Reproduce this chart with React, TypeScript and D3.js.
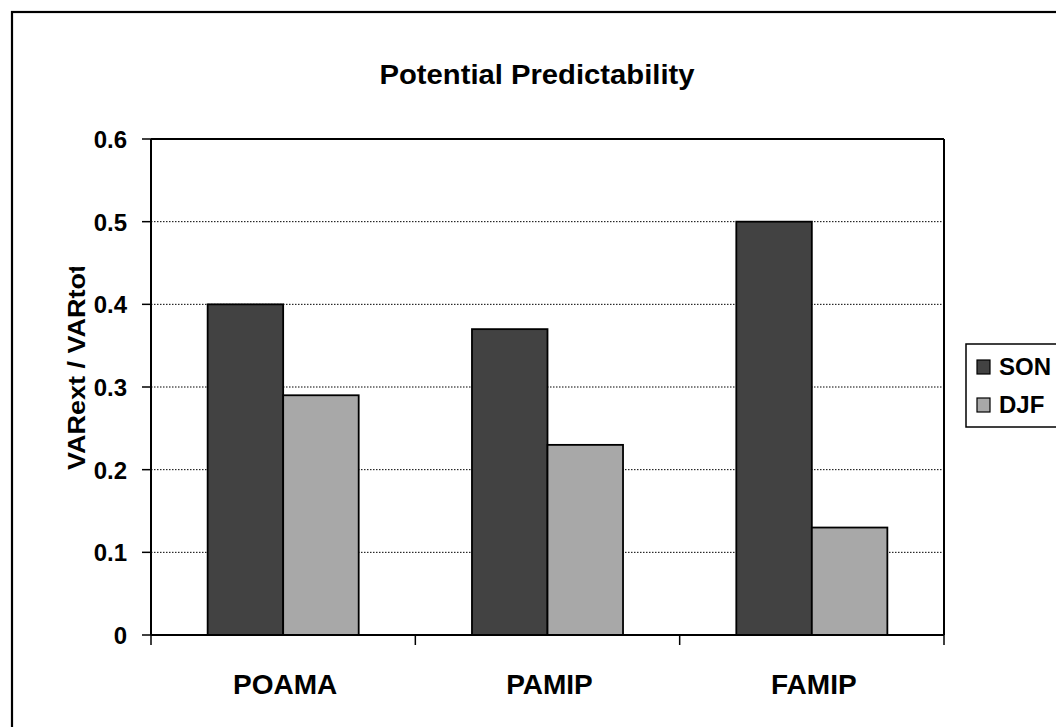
import React from "react";
import * as d3 from "d3";

const categories = ["POAMA", "PAMIP", "FAMIP"];
const seriesNames = ["SON", "DJF"];
const sonValues = [0.4, 0.37, 0.5];
const djfValues = [0.29, 0.23, 0.13];
const yTicks = [0, 0.1, 0.2, 0.3, 0.4, 0.5, 0.6];
const colors = ["#424242", "#a8a8a8"];

const FONT = "'Liberation Sans', Arial, sans-serif";

export default function App() {
  const left = 151, right = 944, top = 139, bottom = 635;
  const y = d3.scaleLinear().domain([0, 0.6]).range([bottom, top]);
  const x0 = d3.scaleBand().domain(categories).range([left, right]).paddingInner(0).paddingOuter(0);
  const groupW = x0.bandwidth() * (2 / 3.5);
  const x1 = d3.scaleBand().domain(seriesNames).range([0, groupW]).padding(0);
  const series = [sonValues, djfValues];
  const catEdges = d3.range(categories.length + 1).map((i) => left + i * x0.bandwidth());

  return (
    <svg width={1056} height={727} style={{ position: "absolute", left: 0, top: 0, background: "#fff" }}>
      <defs>
        <clipPath id="ylab">
          <rect x={0} y={267} width={140} height={400} />
        </clipPath>
      </defs>
      <rect x={0} y={0} width={1056} height={727} fill="#fff" />
      {/* outer chart border */}
      <rect x={12} y={12} width={1100} height={800} fill="none" stroke="#000" strokeWidth={2.2} />
      {/* title */}
      <text x={537} y={84} textAnchor="middle" fontFamily={FONT} fontWeight="bold" fontSize={27}
        textLength={315} lengthAdjust="spacingAndGlyphs">Potential Predictability</text>
      {/* gridlines */}
      {yTicks.filter((t) => t > 0 && t < 0.6).map((t) => (
        <line key={"g" + t} x1={left} x2={right} y1={y(t)} y2={y(t)} stroke="#000" strokeWidth={1} strokeDasharray="1.5,1.5" />
      ))}
      {/* bars */}
      {categories.map((c, ci) => (
        <g key={c} transform={`translate(${x0(c)! + (x0.bandwidth() - groupW) / 2},0)`}>
          {series.map((vals, si) => (
            <rect key={si} x={x1(seriesNames[si])} y={y(vals[ci])} width={x1.bandwidth()}
              height={y(0) - y(vals[ci])} fill={colors[si]} stroke="#000" strokeWidth={1.8} />
          ))}
        </g>
      ))}
      {/* plot frame */}
      <line x1={left} x2={right} y1={top} y2={top} stroke="#000" strokeWidth={2} />
      <line x1={right} x2={right} y1={top} y2={bottom} stroke="#000" strokeWidth={2} />
      <line x1={left} x2={left} y1={top} y2={bottom} stroke="#000" strokeWidth={2} />
      <line x1={left} x2={right} y1={bottom} y2={bottom} stroke="#000" strokeWidth={2} />
      {/* y ticks */}
      {yTicks.map((t) => (
        <g key={"t" + t}>
          <line x1={left - 9} x2={left} y1={y(t)} y2={y(t)} stroke="#000" strokeWidth={1.5} />
          <text x={127} y={y(t) + 9} textAnchor="end" fontFamily={FONT} fontWeight="bold" fontSize={24}>
            {t === 0 ? "0" : d3.format(".1f")(t)}
          </text>
        </g>
      ))}
      {/* x ticks */}
      {catEdges.map((e, i) => (
        <line key={"x" + i} x1={e} x2={e} y1={bottom} y2={bottom + 10} stroke="#000" strokeWidth={1.5} />
      ))}
      {categories.map((c) => (
        <text key={"l" + c} x={x0(c)! + x0.bandwidth() / 2 + 2} y={694} textAnchor="middle" fontFamily={FONT}
          fontWeight="bold" fontSize={28}>{c}</text>
      ))}
      {/* y label */}
      <g clipPath="url(#ylab)">
        <text transform="translate(85,470) rotate(-90)" textAnchor="start" fontFamily={FONT} fontWeight="bold"
          fontSize={23} textLength={206} lengthAdjust="spacingAndGlyphs">VARext / VARtot</text>
      </g>
      {/* legend */}
      <rect x={966} y={344} width={120} height={83} fill="#fff" stroke="#000" strokeWidth={1.5} />
      {seriesNames.map((s, i) => (
        <g key={s}>
          <rect x={977} y={360 + i * 38} width={13} height={14} fill={colors[i]} stroke="#000" strokeWidth={1.2} />
          <text x={999} y={375 + i * 38} fontFamily={FONT} fontWeight="bold" fontSize={24}>{s}</text>
        </g>
      ))}
    </svg>
  );
}
